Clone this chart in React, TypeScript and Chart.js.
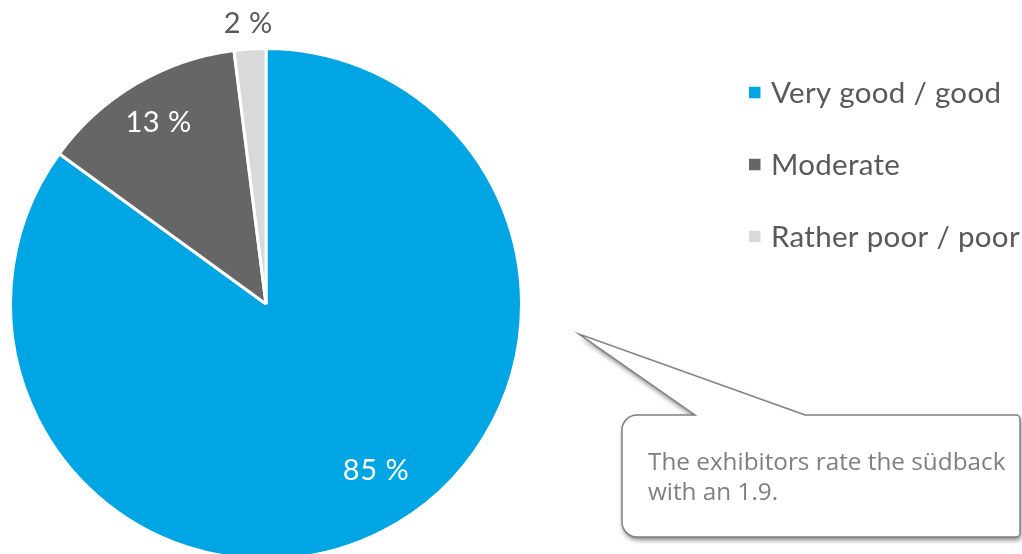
import React, { useEffect, useRef } from "react";
import { Chart, registerables } from "chart.js";

Chart.register(...registerables);

// ---- data ----
const categories = ["Very good / good", "Moderate", "Rather poor / poor"];
const shares = [85, 13, 2];
const sliceColors = ["#00A6E3", "#666666", "#D9D9D9"];
const labelColors = ["#FFFFFF", "#FFFFFF", "#595959"];
const calloutLines = ["The exhibitors rate the südback", "with an 1.9."];

const overlayPlugin = {
  id: "overlay",
  afterDraw(chart: any) {
    const ctx: any = chart.ctx;
    const opts = chart.options.plugins.overlay;
    const meta = chart.getDatasetMeta(0);
    const values = chart.data.datasets[0].data as number[];

    // data labels
    ctx.save();
    ctx.font = "29px Lato";
    ctx.letterSpacing = "0.5px";
    ctx.textAlign = "center";
    ctx.textBaseline = "middle";
    meta.data.forEach((arc: any, i: number) => {
      const p = arc.getProps(["x", "y", "startAngle", "endAngle", "outerRadius"], true);
      const off = opts.labelPlacement[i];
      const mid = (p.startAngle + p.endAngle) / 2 + (off.angle * Math.PI) / 180;
      const r = p.outerRadius * off.r;
      ctx.fillStyle = labelColors[i];
      ctx.fillText(values[i] + " %", p.x + Math.cos(mid) * r, p.y + Math.sin(mid) * r);
    });
    ctx.restore();

    // legend
    ctx.save();
    const lg = opts.legend;
    ctx.font = "29.5px Lato";
    ctx.letterSpacing = "0.3px";
    ctx.textAlign = "left";
    ctx.textBaseline = "middle";
    (chart.data.labels as string[]).forEach((lab, i) => {
      const cy = lg.y + i * lg.gap;
      ctx.fillStyle = chart.data.datasets[0].backgroundColor[i];
      ctx.fillRect(lg.x, cy - lg.box / 2, lg.box, lg.box);
      ctx.fillStyle = "#595959";
      ctx.fillText(lab, lg.x + lg.textGap, cy + 1);
    });
    ctx.restore();

    // callout
    const c = opts.callout;
    ctx.save();
    const L = c.left, T = c.top, R = c.right, B = c.bottom, rl = c.radius, rr = c.rightRadius;
    ctx.beginPath();
    ctx.moveTo(L + rl, T);
    ctx.lineTo(c.baseA, T);
    ctx.lineTo(c.tipX, c.tipY);
    ctx.lineTo(c.baseB, T);
    ctx.lineTo(R - rr, T);
    ctx.arcTo(R, T, R, T + rr, rr);
    ctx.lineTo(R, B - rr);
    ctx.arcTo(R, B, R - rr, B, rr);
    ctx.lineTo(L + rl, B);
    ctx.arcTo(L, B, L, B - rl, rl);
    ctx.lineTo(L, T + rl);
    ctx.arcTo(L, T, L + rl, T, rl);
    ctx.closePath();
    ctx.shadowColor = "rgba(0,0,0,0.5)";
    ctx.shadowBlur = 5;
    ctx.shadowOffsetX = 1;
    ctx.shadowOffsetY = 3;
    ctx.fillStyle = "#FFFFFF";
    ctx.fill();
    ctx.shadowColor = "transparent";
    ctx.lineWidth = 1.5;
    ctx.strokeStyle = "#808080";
    ctx.stroke();
    ctx.font = "24.3px 'Open Sans'";
    ctx.fillStyle = "#7F7F7F";
    ctx.textAlign = "left";
    ctx.textBaseline = "alphabetic";
    calloutLines.forEach((ln, i) => {
      ctx.fillText(ln, c.textX, c.textY + i * c.lineGap);
    });
    ctx.restore();
  },
};

export default function App() {
  const ref = useRef<HTMLCanvasElement | null>(null);
  useEffect(() => {
    document.body.style.margin = "0";
    document.body.style.overflow = "hidden";
    if (!ref.current) return;
    const chart = new Chart(ref.current, {
      type: "pie",
      data: {
        labels: categories,
        datasets: [
          {
            data: shares,
            backgroundColor: sliceColors,
            borderColor: "#FFFFFF",
            borderWidth: 3,
          },
        ],
      },
      options: {
        responsive: false,
        animation: false,
        layout: { padding: { left: 9, right: 499, top: 47, bottom: 19 } },
        plugins: {
          legend: { display: false },
          tooltip: { enabled: false },
          overlay: {
            labelPlacement: [
              { angle: -6.5, r: 0.78 },
              { angle: 0, r: 0.825 },
              { angle: 0, r: 1.1 },
            ],
            legend: { x: 749, y: 92.5, gap: 72, box: 11.5, textGap: 22 },
            callout: {
              left: 622,
              top: 415,
              right: 1020,
              bottom: 537,
              radius: 15,
              rightRadius: 4,
              baseA: 695,
              baseB: 805,
              tipX: 579,
              tipY: 334,
              textX: 648,
              textY: 470,
              lineGap: 30,
            },
          },
        } as any,
      },
      plugins: [overlayPlugin],
    });
    return () => chart.destroy();
  }, []);
  return (
    <div style={{ width: 1022, height: 554, overflow: "hidden" }}>
      <canvas ref={ref} width={1022} height={580} style={{ display: "block" }} />
    </div>
  );
}
